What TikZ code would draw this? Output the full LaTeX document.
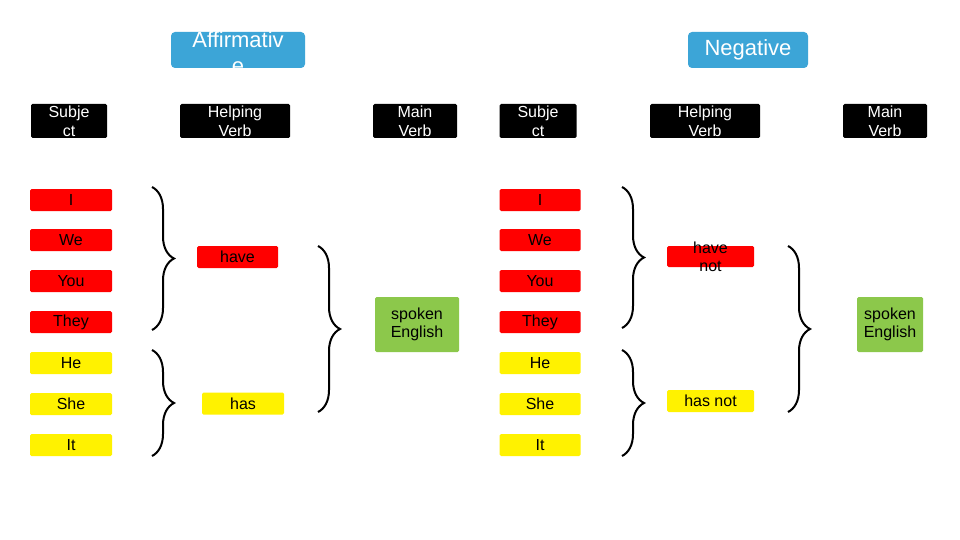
\documentclass[tikz,border=0pt]{standalone}
\usepackage{fontspec}
\setmainfont{Liberation Sans}
\usetikzlibrary{decorations.pathreplacing}
\definecolor{bluebox}{RGB}{60,165,215}
\definecolor{greenbox}{RGB}{140,200,75}
\begin{document}
\begin{tikzpicture}[x=1pt,y=-1pt,
  box/.style={minimum width=#1pt,inner sep=0pt,rounded corners=1.5pt,font=\fontsize{16}{18}\selectfont},
  redb/.style={box=#1,fill=red,minimum height=22pt},
  yelb/.style={box=#1,fill=yellow,minimum height=22pt},
  hdr/.style={box=#1,fill=black,text=white,minimum height=34pt,align=center,font=\fontsize{16}{19}\selectfont},
  br/.style={decorate,decoration={brace,amplitude=22pt},line width=2pt}]
\useasboundingbox (0,0) rectangle (960,540);
\fill[white] (0,0) rectangle (960,540);
% titles
\begin{scope}
\clip (171,32) rectangle (305,68);
\node[fill=bluebox,minimum width=134pt,minimum height=36pt,rounded corners=4pt,inner sep=0pt] (aff) at (238,50) {};
\node[text=white,align=center,font=\fontsize{22}{26}\selectfont] (afft) at (238,53) {Affirmativ\\e};
\end{scope}
\node[fill=bluebox,minimum width=120pt,minimum height=36pt,rounded corners=4pt,inner sep=0pt,text=white,font=\fontsize{22}{24}\selectfont] (neg) at (748,50) {Negative};
% headers
\node[hdr=76] (h1) at (69,121) {Subje\\ct};
\node[hdr=110] (h2) at (235,121) {Helping\\Verb};
\node[hdr=84] (h3) at (415,121) {Main\\Verb};
\node[hdr=77] (h4) at (538,121) {Subje\\ct};
\node[hdr=110] (h5) at (705,121) {Helping\\Verb};
\node[hdr=84] (h6) at (885,121) {Main\\Verb};
% subjects
\foreach \n/\t/\y/\s in {a/I/200/redb,b/We/240/redb,c/You/281/redb,d/They/322/redb,e/He/363/yelb,f/She/404/yelb,g/It/445/yelb}{
  \node[\s=82] (L\n) at (71,\y) {\t};
  \node[\s=81] (R\n) at (540,\y) {\t};
}
\node[redb=81] (have) at (237.5,257) {have};
\node[yelb=82] (has) at (243,403.5) {has};
\node[box=84,fill=greenbox,minimum height=55pt,align=center] (sp1) at (417,324.5) {spoken\\English};
\node[redb=87,minimum height=21pt] (havenot) at (710.5,256.5) {};
\node[align=center,font=\fontsize{16}{18}\selectfont] (hnt) at (710.5,256.5) {have\\not};
\node[yelb=87] (hasnot) at (710.5,401) {has not};
\node[box=66,fill=greenbox,minimum height=55pt,align=center] (sp2) at (890,324.5) {spoken\\English};
% braces
\draw[br] (152,187) -- (152,330);
\draw[br] (152,350) -- (152,456);
\draw[br] (318,246) -- (318,412);
\draw[br] (622,187) -- (622,328);
\draw[br] (622,350) -- (622,456);
\draw[br] (788,246) -- (788,412);
\end{tikzpicture}
\end{document}
